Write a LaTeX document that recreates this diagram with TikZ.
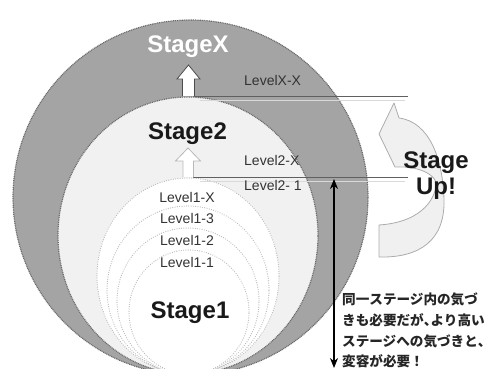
\documentclass[tikz,border=0pt]{standalone}
\usepackage{fontspec}
\setmainfont{Liberation Sans}
\newfontfamily\jpfont{Noto Sans CJK JP}
\usetikzlibrary{arrows.meta}
\definecolor{outerg}{HTML}{A4A4A4}
\definecolor{outerb}{HTML}{6A6A6A}
\definecolor{stagetwo}{HTML}{F1F1F1}
\definecolor{lvltxt}{HTML}{333333}
\begin{document}
\begin{tikzpicture}[x=1pt,y=-1pt,
  ringdots/.style={draw=outerb, line width=1.2pt, dash pattern=on 1pt off 0.8pt},
  leveldots/.style={draw=gray!55, line width=1.2pt, line cap=round, dash pattern=on 0pt off 2.3pt},
  levelline/.style={draw=gray!75!black, line width=0.8pt},
  faintline/.style={draw=gray!30, line width=0.6pt},
  stagelbl/.style={font=\fontsize{24}{28}\selectfont\bfseries, inner sep=0pt, anchor=base},
  lvllbl/.style={font=\fontsize{14}{16}\selectfont, text=lvltxt, inner sep=0pt},
  jptxt/.style={font=\fontsize{13.6}{21}\selectfont\jpfont\bfseries, text=black!85, inner sep=0pt, anchor=base west},
  hollowup/.style={line width=0.8pt, line join=miter}
]
\useasboundingbox (0,0) rectangle (492,369);
\clip (0,0) rectangle (492,369);
% outer StageX circle
\fill[outerg] (190.5,197.5) circle[radius=177.5pt];
\draw[ringdots] (190.5,197.5) circle[radius=177.5pt];
% Stage2
\filldraw[fill=stagetwo, ringdots] (188,235.5) ellipse[x radius=130pt, y radius=138.5pt];
% Stage1 level circles
\filldraw[fill=white, leveldots] (188,276) ellipse[x radius=91pt, y radius=98pt];
\draw[leveldots] (188,290) ellipse[x radius=81pt, y radius=84pt];
\draw[leveldots] (188,301) ellipse[x radius=71pt, y radius=73pt];
\draw[leveldots] (189,312) ellipse[x radius=60pt, y radius=62pt];
% level lines
\coordinate (xl) at (193,96);
\coordinate (xr) at (408,96);
\coordinate (tl) at (193,177);
\coordinate (tr) at (408,177);
\draw[levelline] (xl) -- (xr);
\draw[faintline] (200,100.5) -- (405,100.5);
\draw[levelline] (tl) -- (tr);
\draw[faintline] (200,181.5) -- (405,181.5);
% hollow up arrows
\filldraw[hollowup, fill=white, draw=gray!60!black]
  (182.5,96) -- (182.5,79) -- (177,79) -- (188.5,65) -- (200,79) -- (194.5,79) -- (194.5,96);
\filldraw[hollowup, fill=white, draw=gray!55]
  (183,177) -- (183,161) -- (175.5,161) -- (188,148) -- (200.5,161) -- (193.5,161) -- (193.5,177);
% curved Stage Up arrow
\filldraw[fill=gray!12, draw=gray!65, line width=0.8pt, line join=round]
  (379,225) -- (379,257)
  .. controls (420,258) and (445,240) .. (444,200)
  .. controls (443,160) and (430,122) .. (399,118)
  -- (394,103) -- (379,134) -- (395,167)
  .. controls (415,166) and (432,172) .. (436,182)
  .. controls (437,195) and (425,222) .. (379,225) -- cycle;
% double arrow
\coordinate (dtop) at (334,179);
\coordinate (dbot) at (334,368);
\draw[{Stealth[length=10pt,width=8pt]}-{Stealth[length=10pt,width=8pt]}, line width=1.8pt, black] (dtop) -- (dbot);
% stage labels
\node[stagelbl, text=white] (sx) at (188,52.5) {StageX};
\node[stagelbl, text=black!90] (s2) at (187.5,139) {Stage2};
\node[stagelbl, text=black!90] (s1) at (190,318) {Stage1};
\node[stagelbl, text=black!90] (su1) at (436,168) {Stage};
\node[stagelbl, text=black!90] (su2) at (436,194) {Up!};
% level labels
\node[lvllbl, anchor=base west] (lxx) at (244,85) {LevelX-X};
\node[lvllbl, anchor=base west] (l2x) at (244,165) {Level2-X};
\node[lvllbl, anchor=base west] (l21) at (244,190) {Level2- 1};
\node[lvllbl, anchor=base] (l1x) at (187,202) {Level1-X};
\node[lvllbl, anchor=base] (l13) at (187,223.5) {Level1-3};
\node[lvllbl, anchor=base] (l12) at (187,245.5) {Level1-2};
\node[lvllbl, anchor=base] (l11) at (187,267) {Level1-1};
% Japanese note
\node[jptxt] (j1) at (342,304) {同一ステージ内の気づ};
\node[jptxt] (j2) at (342,325) {きも必要だが\makebox[6.8pt][l]{、}より高い};
\node[jptxt] (j3) at (342,346) {ステージへの気づきと\makebox[6.8pt][l]{、}};
\node[jptxt] (j4) at (342,366) {変容が必要！};
\end{tikzpicture}
\end{document}
